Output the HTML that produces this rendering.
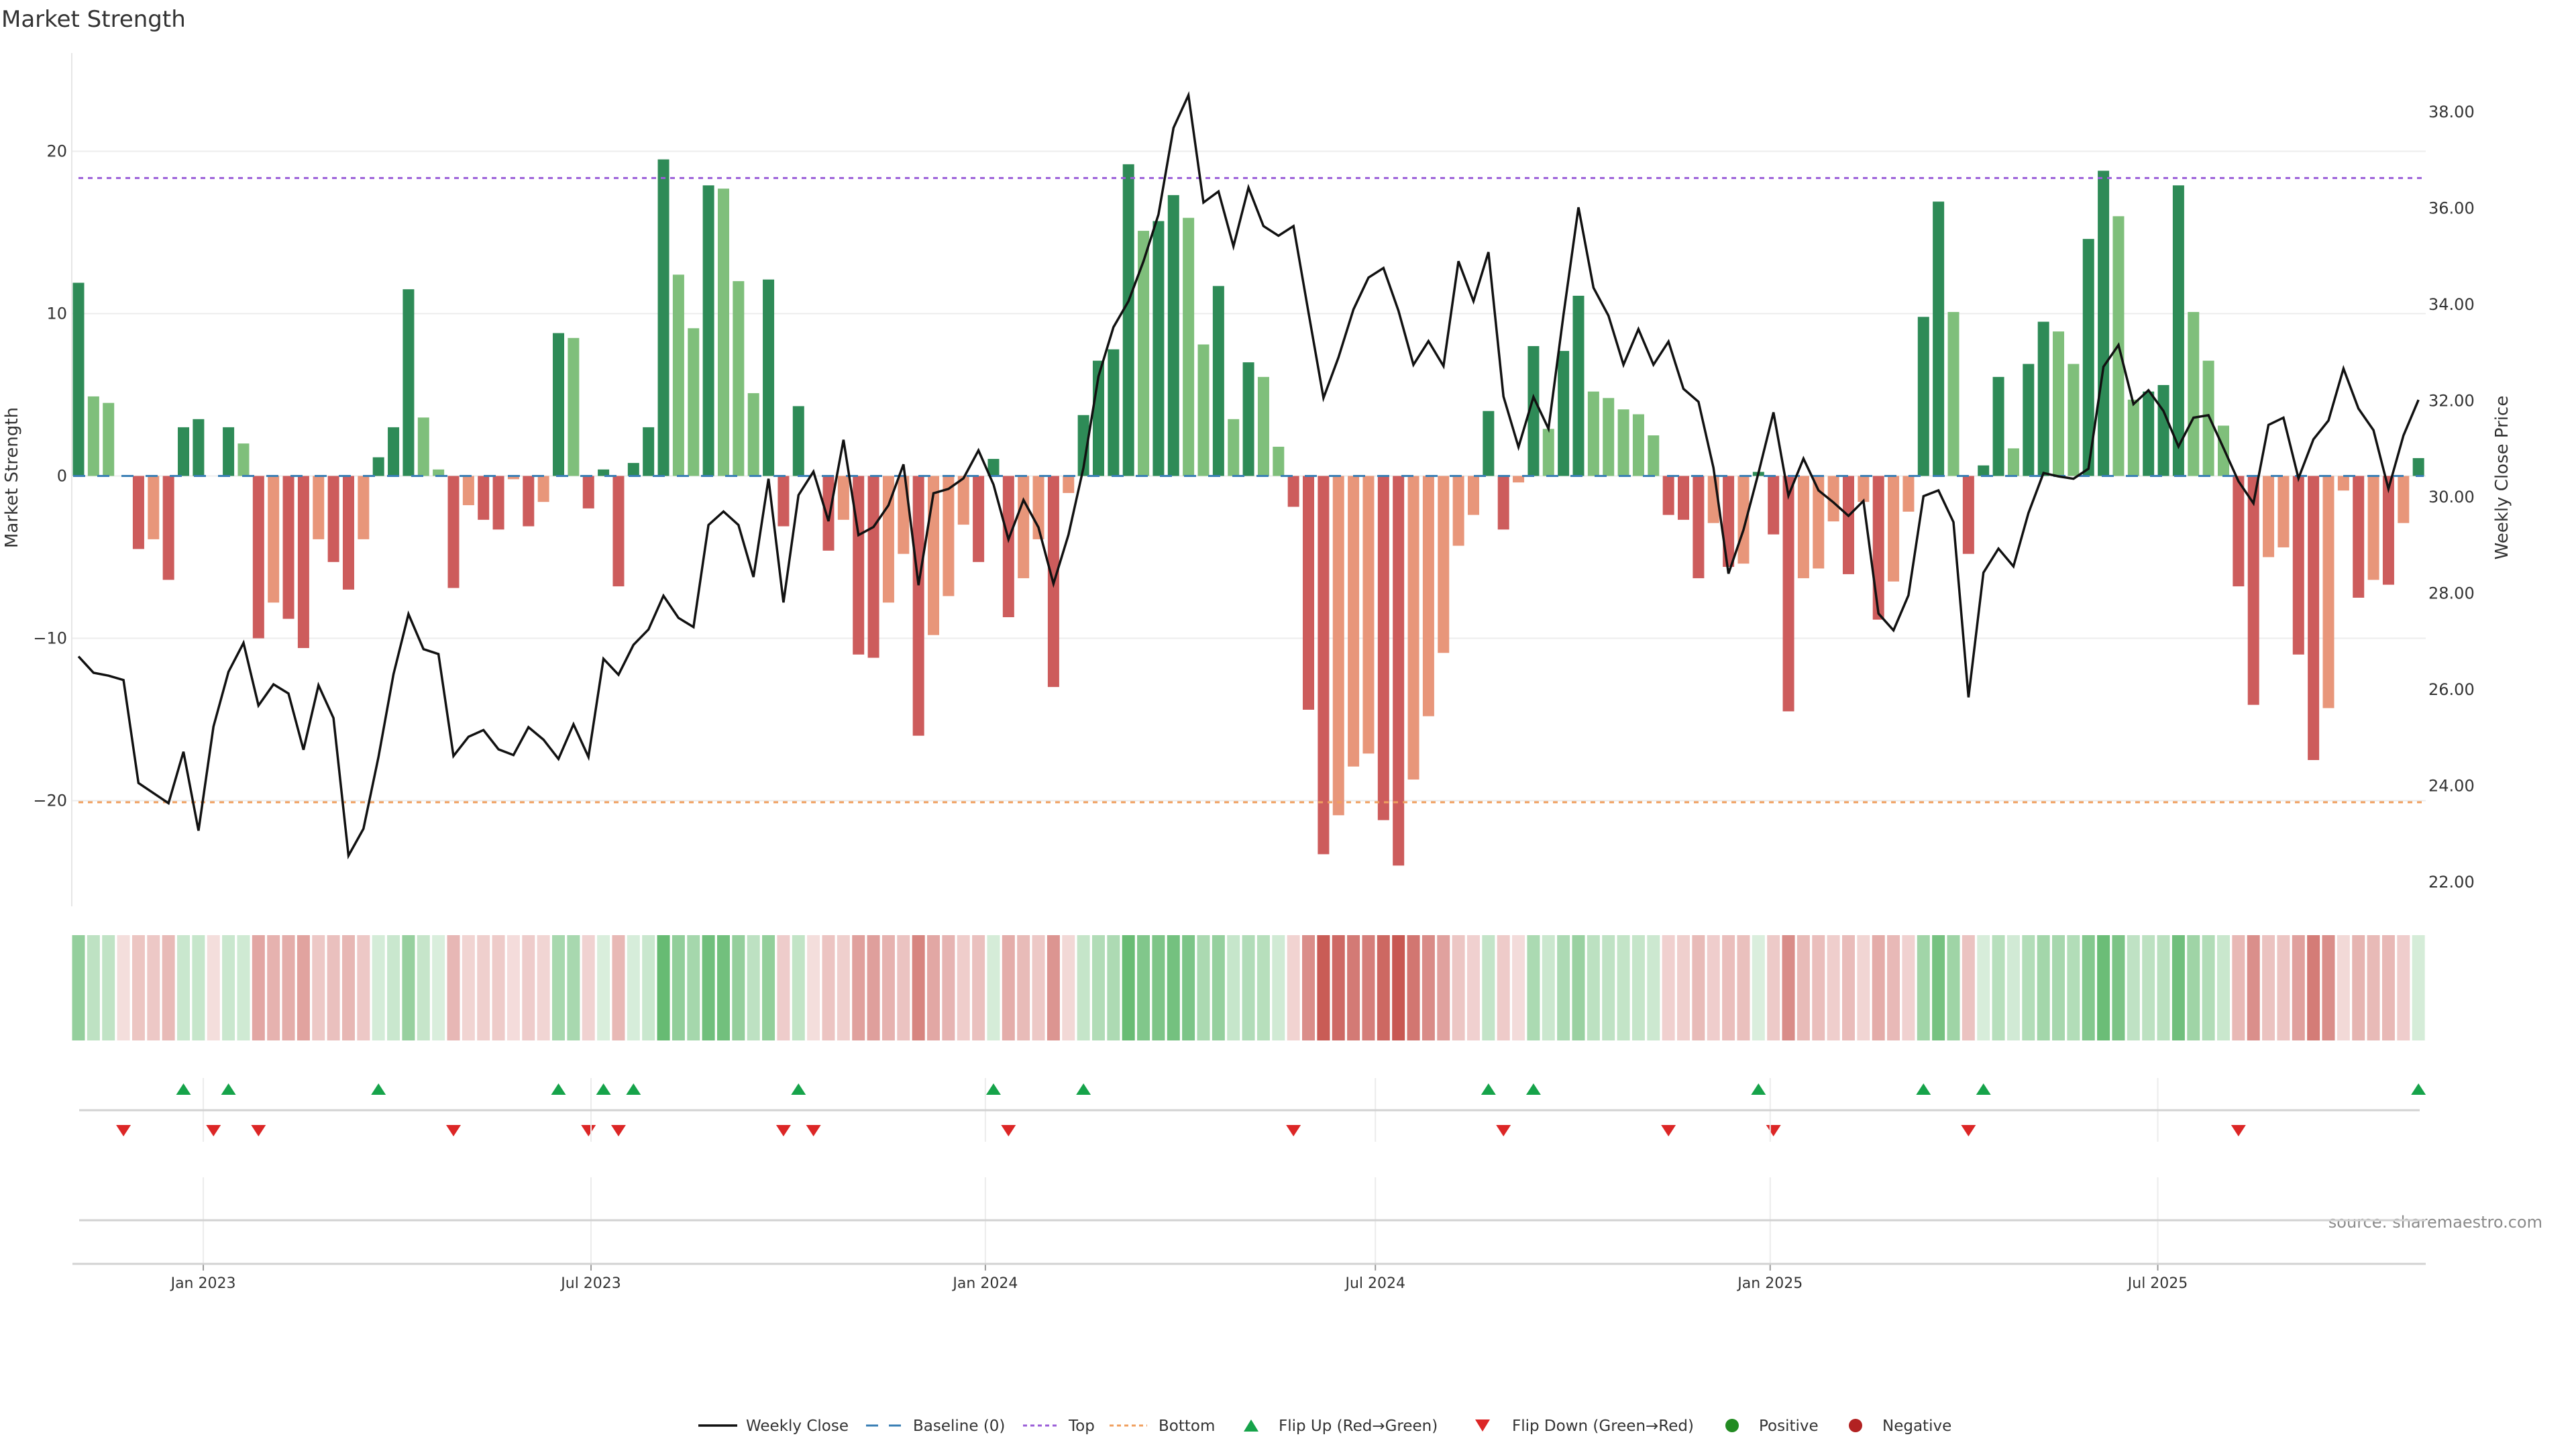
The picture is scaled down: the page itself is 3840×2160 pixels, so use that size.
<!DOCTYPE html>
<html><head><meta charset="utf-8"><style>
html,body{margin:0;padding:0;background:#fff;}
svg{display:block;font-family:"DejaVu Sans","Liberation Sans",sans-serif;}
</style></head><body>
<svg id="chart" width="3840" height="2160" viewBox="0 0 3840 2160" xmlns="http://www.w3.org/2000/svg">
<rect x="0" y="0" width="3840" height="2160" fill="#fff"/>
<text x="2" y="40" font-size="34" fill="#333">Market Strength</text>
<text transform="translate(26,712) rotate(-90)" text-anchor="middle" font-size="26" fill="#333">Market Strength</text>
<text transform="translate(3738,712) rotate(-90)" text-anchor="middle" font-size="26" fill="#333">Weekly Close Price</text>
<text x="3790" y="1830" text-anchor="end" font-size="24" fill="#8a8a8a">source: sharemaestro.com</text>
<g id="grid"></g><g id="bars"></g><g id="refs"></g><g id="line"></g><g id="strip"></g><g id="markers"></g><g id="xaxis"></g><g id="legend"></g>
</svg>
<script>
const values = [11.9,4.9,4.5,0,-4.5,-3.9,-6.4,3.0,3.5,0,
3.0,2.0,-10.0,-7.8,-8.8,-10.6,-3.9,-5.3,-7.0,-3.9,
1.15,3.0,11.5,3.6,0.4,-6.9,-1.8,-2.7,-3.3,-0.2,
-3.1,-1.6,8.8,8.5,-2.0,0.4,-6.8,0.8,3.0,19.5,
12.4,9.1,17.9,17.7,12.0,5.1,12.1,-3.1,4.3,0,
-4.6,-2.7,-11.0,-11.2,-7.8,-4.8,-16.0,-9.8,-7.4,-3.0,
-5.3,1.05,-8.7,-6.3,-3.9,-13.0,-1.05,3.75,7.1,7.8,
19.2,15.1,15.7,17.3,15.9,8.1,11.7,3.5,7.0,6.1,
1.8,-1.9,-14.4,-23.3,-20.9,-17.9,-17.1,-21.2,-24.0,-18.7,
-14.8,-10.9,-4.3,-2.4,4.0,-3.3,-0.4,8.0,2.9,7.7,
11.1,5.2,4.8,4.1,3.8,2.5,-2.4,-2.7,-6.3,-2.9,
-5.6,-5.4,0.25,-3.6,-14.5,-6.3,-5.7,-2.8,-6.05,-1.6,
-8.85,-6.5,-2.2,9.8,16.9,10.1,-4.8,0.65,6.1,1.7,
6.9,9.5,8.9,6.9,14.6,18.8,16.0,4.7,5.2,5.6,
17.9,10.1,7.1,3.1,-6.8,-14.1,-5.0,-4.4,-11.0,-17.5,
-14.3,-0.9,-7.5,-6.4,-6.7,-2.9,1.1];
const closes = [26.69,26.35,26.29,26.20,24.06,23.85,23.64,24.71,23.07,25.23,
26.37,26.97,25.67,26.11,25.92,24.75,26.09,25.41,22.55,23.11,
24.60,26.32,27.57,26.84,26.74,24.62,25.02,25.16,24.76,24.64,
25.22,24.96,24.56,25.28,24.60,26.64,26.31,26.93,27.25,27.95,
27.49,27.30,29.42,29.70,29.42,28.34,30.38,27.81,30.04,30.53,
29.50,31.19,29.21,29.38,29.83,30.68,28.17,30.08,30.17,30.39,
30.97,30.26,29.12,29.94,29.37,28.20,29.22,30.61,32.51,33.53,
34.07,34.90,35.87,37.67,38.35,36.12,36.35,35.21,36.43,35.63,
35.43,35.63,33.84,32.06,32.90,33.90,34.56,34.76,33.87,32.75,
33.24,32.72,34.90,34.07,35.09,32.09,31.04,32.08,31.42,33.78,
36.02,34.35,33.77,32.75,33.49,32.75,33.23,32.25,31.98,30.61,
28.41,29.32,30.50,31.76,30.03,30.80,30.14,29.89,29.61,29.92,
27.58,27.23,27.96,30.02,30.14,29.48,25.84,28.43,28.93,28.56,
29.67,30.50,30.43,30.38,30.59,32.71,33.16,31.93,32.22,31.79,
31.05,31.65,31.70,31.02,30.33,29.87,31.50,31.65,30.39,31.20,
31.59,32.67,31.84,31.39,30.17,31.28,32.02];
const leftTicks = [20,10,0,-10,-20];
const rightTicks = [38,36,34,32,30,28,26,24,22];
const dateTickLabels = ["Jan 2023","Jul 2023","Jan 2024","Jul 2024","Jan 2025","Jul 2025"];
const dateTickIndex = [8.32,34.17,60.46,86.46,112.78,138.62];
const topLevel = 18.35;
const bottomLevel = -20.1;

const NS="http://www.w3.org/2000/svg";
function mk(tag,attrs,parent){const e=document.createElementNS(NS,tag);for(const k in attrs)e.setAttribute(k,attrs[k]);parent.appendChild(e);return e;}
const xS=i=>117+22.36*i;
const yL=v=>709.5-24.2*v;
const yR=p=>167+(38-p)*71.75;
const X0=107,X1=3616,PT=79,PB=1351;

const grid=document.getElementById('grid');
leftTicks.forEach(t=>{
  const l=mk('line',{x1:X0,x2:X1,y1:yL(t),y2:yL(t),stroke:'#ececec','stroke-width':2},grid);
  
  
  const tx=mk('text',{x:100,y:yL(t)+8,'text-anchor':'end','font-size':24,fill:'#333'},grid);
  tx.textContent=t<0?'\u2212'+Math.abs(t):String(t);
  
  
});
rightTicks.forEach(t=>{
  const tx=mk('text',{x:3620,y:yR(t)+8,'font-size':24,fill:'#333'},grid);
  tx.textContent=t.toFixed(2);
  
  
});
const sp=mk('line',{x1:X0,x2:X0,y1:PT,y2:PB,stroke:'#e6e6e6','stroke-width':2},grid);



const bars=document.getElementById('bars');
values.forEach((v,i)=>{
  if(v===0)return;
  const prev=i>0?values[i-1]:0;
  const sameSign=(v>0)===(prev>0)&&prev!==0;
  const dark=!sameSign||Math.abs(v)>=Math.abs(prev);
  const col=v>0?(dark?'#2e8b57':'#7fbf7b'):(dark?'#cd5c5c':'#e8967a');
  const y1=yL(Math.max(v,0)),y2=yL(Math.min(v,0));
  const r=mk('rect',{x:xS(i)-8.5,y:y1,width:17,height:Math.max(1,y2-y1),fill:col},bars);
  
  
});

const refs=document.getElementById('refs');
const bl=mk('line',{x1:xS(0)-8,x2:xS(values.length-1)+8,y1:yL(0),y2:yL(0),stroke:'#3a7fb5','stroke-width':3,'stroke-dasharray':'18 18'},refs);


const tl=mk('line',{x1:X0+10,x2:X1,y1:yL(topLevel),y2:yL(topLevel),stroke:'#9b5fd8','stroke-width':3,'stroke-dasharray':'7 7'},refs);


const bt=mk('line',{x1:X0+10,x2:X1,y1:yL(bottomLevel),y2:yL(bottomLevel),stroke:'#f0a060','stroke-width':3,'stroke-dasharray':'7 7'},refs);



const ln=document.getElementById('line');
const pts=closes.map((c,i)=>xS(i).toFixed(1)+','+yR(c).toFixed(1)).join(' ');
const pl=mk('polyline',{points:pts,fill:'none',stroke:'#111','stroke-width':3.5,'stroke-linejoin':'miter'},ln);



const strip=document.getElementById('strip');
values.forEach((v,i)=>{
  const a=0.2+0.8*Math.min(Math.abs(v)/24,1);
  const base=v>0?[76,175,90]:[200,88,82];
  const c=base.map(b=>Math.round(255-(255-b)*a));
  const r=mk('rect',{x:xS(i)-9.5,y:1394,width:19,height:157,fill:'rgb('+c.join(',')+')'},strip);
  
  
});

const mg=document.getElementById('markers');
const xa=document.getElementById('xaxis');
dateTickIndex.forEach((d,j)=>{
  const x=xS(d);
  const g1=mk('line',{x1:x,x2:x,y1:1607,y2:1702,stroke:'#ececec','stroke-width':2},xa);
  
  
  const g2=mk('line',{x1:x,x2:x,y1:1755,y2:1884,stroke:'#ececec','stroke-width':2},xa);
  
  
  const tk=mk('line',{x1:x,x2:x,y1:1884,y2:1894,stroke:'#999','stroke-width':2},xa);
  
  
  const t=mk('text',{x:x,y:1920,'text-anchor':'middle','font-size':22,fill:'#333'},xa);
  t.textContent=dateTickLabels[j];
  
  
});
const d1=mk('line',{x1:118,x2:3607,y1:1655,y2:1655,stroke:'#d2d2d2','stroke-width':3},xa);


const d2=mk('line',{x1:118,x2:3616,y1:1819,y2:1819,stroke:'#d2d2d2','stroke-width':3},xa);


const d3=mk('line',{x1:108,x2:3616,y1:1884,y2:1884,stroke:'#d2d2d2','stroke-width':3},xa);



values.forEach((v,i)=>{
  if(i===0)return;
  const p=values[i-1]>0,c=v>0;
  const x=xS(i);
  if(!p&&c){
    const t=mk('polygon',{points:(x-11)+',1632 '+(x+11)+',1632 '+x+',1615',fill:'#16a34a'},mg);
    
    
  } else if(p&&!c){
    const t=mk('polygon',{points:(x-11)+',1677 '+(x+11)+',1677 '+x+',1694',fill:'#dc2626'},mg);
    
    
  }
});

const lg=document.getElementById('legend');
const LY=2125;
function ltxt(x,s,n){const t=mk('text',{x:x,y:LY+8,'font-size':23,fill:'#333'},lg);t.textContent=s;}
let e;
e=mk('line',{x1:1041,x2:1099,y1:LY,y2:LY,stroke:'#111','stroke-width':3.5},lg);


ltxt(1112,'Weekly Close','legend-weekly-close');
e=mk('line',{x1:1291,x2:1344,y1:LY,y2:LY,stroke:'#3a7fb5','stroke-width':3,'stroke-dasharray':'18 16'},lg);


ltxt(1361,'Baseline (0)','legend-baseline');
e=mk('line',{x1:1525,x2:1580,y1:LY,y2:LY,stroke:'#9b5fd8','stroke-width':3,'stroke-dasharray':'6 5'},lg);


ltxt(1593,'Top','legend-top');
e=mk('line',{x1:1654,x2:1710,y1:LY,y2:LY,stroke:'#f0a060','stroke-width':3,'stroke-dasharray':'6 5'},lg);


ltxt(1727,'Bottom','legend-bottom');
e=mk('polygon',{points:'1854,2134 1876,2134 1865,2116',fill:'#16a34a'},lg);


ltxt(1906,'Flip Up (Red\u2192Green)','legend-flip-up');
e=mk('polygon',{points:'2199,2116 2221,2116 2210,2134',fill:'#dc2626'},lg);


ltxt(2254,'Flip Down (Green\u2192Red)','legend-flip-down');
e=mk('circle',{cx:2582,cy:LY,r:10,fill:'#228b22'},lg);


ltxt(2622,'Positive','legend-positive');
e=mk('circle',{cx:2766,cy:LY,r:10,fill:'#b22222'},lg);


ltxt(2806,'Negative','legend-negative');
</script>
</body></html>
